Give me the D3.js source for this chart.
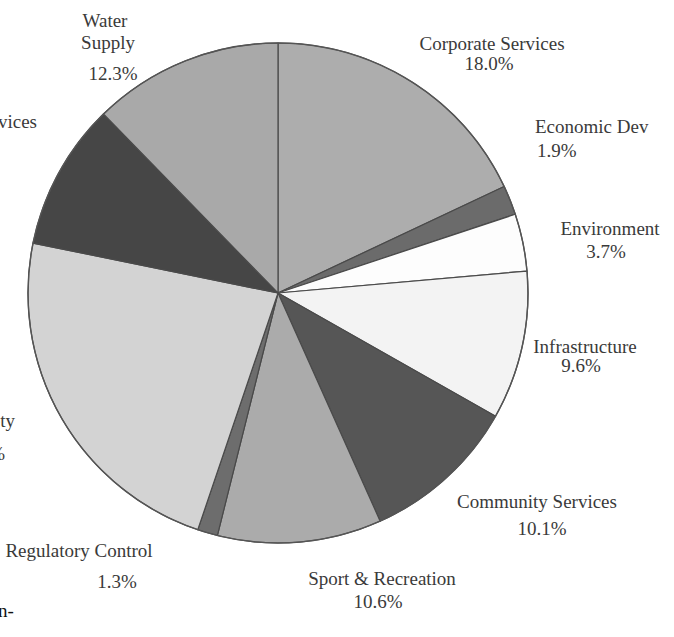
<!DOCTYPE html>
<html>
<head>
<meta charset="utf-8">
<script src="https://cdn.jsdelivr.net/npm/d3@7/dist/d3.min.js"></script>
<style>
  html, body { margin: 0; padding: 0; background: #fff; overflow: hidden; }
  svg { display: block; }
  text { font-family: "Liberation Serif", "DejaVu Serif", serif; }
</style>
</head>
<body>
<svg id="chart" width="674" height="637"></svg>
<script>
// ---- data ----
const categories = ["Corporate Services", "Economic Dev", "Environment", "Infrastructure",
  "Community Services", "Sport & Recreation", "Regulatory Control", "Public Safety",
  "Health Services", "Water Supply"];
const shares = [18.0, 1.9, 3.7, 9.6, 10.1, 10.6, 1.3, 23.0, 9.5, 12.3];
const shareLabels = ["18.0%", "1.9%", "3.7%", "9.6%", "10.1%", "10.6%", "1.3%", "23.0%", "9.5%", "12.3%"];

// ---- styles / layout ----
const fills = ["#adadad", "#6b6b6b", "#fdfdfd", "#f3f3f3", "#565656", "#ababab",
  "#6d6d6d", "#d3d3d3", "#464646", "#a9a9a9"];
// label layout: lines of name text, anchor, position
const labelLayout = {
  "Water Supply":       { name: [["Water", 105, 27], ["Supply", 108, 49]], pct: [113, 80], anchor: "middle" },
  "Corporate Services": { name: [["Corporate Services", 492, 50]], pct: [489, 70], anchor: "middle" },
  "Economic Dev":       { name: [["Economic Dev", 535, 133]], pct: [537, 157], anchor: "start" },
  "Environment":        { name: [["Environment", 610, 235]], pct: [606, 258], anchor: "middle" },
  "Infrastructure":     { name: [["Infrastructure", 585, 353]], pct: [581, 372], anchor: "middle" },
  "Community Services": { name: [["Community Services", 537, 508]], pct: [542, 535], anchor: "middle" },
  "Sport & Recreation": { name: [["Sport & Recreation", 382, 585]], pct: [378, 608], anchor: "middle" },
  "Regulatory Control": { name: [["Regulatory Control", 79, 557]], pct: [117, 588], anchor: "middle" },
  "Public Safety":      { name: [["Public Safety", 15, 427]], pct: [5, 460], anchor: "end" },
  "Health Services":    { name: [["Health Services", 37, 128]], pct: [-20, 156], anchor: "end" }
};

const svg = d3.select("#chart");
const cx = 278, cy = 293, R = 250;

const pie = d3.pie().sort(null).value(d => d.v).startAngle(0).endAngle(2 * Math.PI);
const data = categories.map((c, i) => ({ c, v: shares[i], i }));
const arcs = pie(data);
const arc = d3.arc().innerRadius(0).outerRadius(R);

const g = svg.append("g").attr("transform", `translate(${cx},${cy})`);
g.selectAll("path.slice")
  .data(arcs)
  .join("path")
  .attr("class", "slice")
  .attr("d", arc)
  .attr("fill", d => fills[d.data.i])
  .attr("stroke", "#4a4a4a")
  .attr("stroke-width", 1.2)
  .attr("stroke-linejoin", "round");

// outer ring
g.append("circle").attr("r", R).attr("fill", "none").attr("stroke", "#555").attr("stroke-width", 1.4);

// labels
const lg = svg.append("g").attr("fill", "#3a3a3a").attr("font-size", 19);
categories.forEach((c, i) => {
  const L = labelLayout[c];
  L.name.forEach(([t, x, y]) => {
    lg.append("text").attr("x", x).attr("y", y).attr("text-anchor", L.anchor).text(t);
  });
  lg.append("text").attr("x", L.pct[0]).attr("y", L.pct[1]).attr("text-anchor", L.anchor)
    .text(shareLabels[i]);
});

// fragment of surrounding page text
svg.append("text").attr("x", -2).attr("y", 617).attr("font-size", 19).attr("fill", "#111").text("n-");
</script>
</body>
</html>
